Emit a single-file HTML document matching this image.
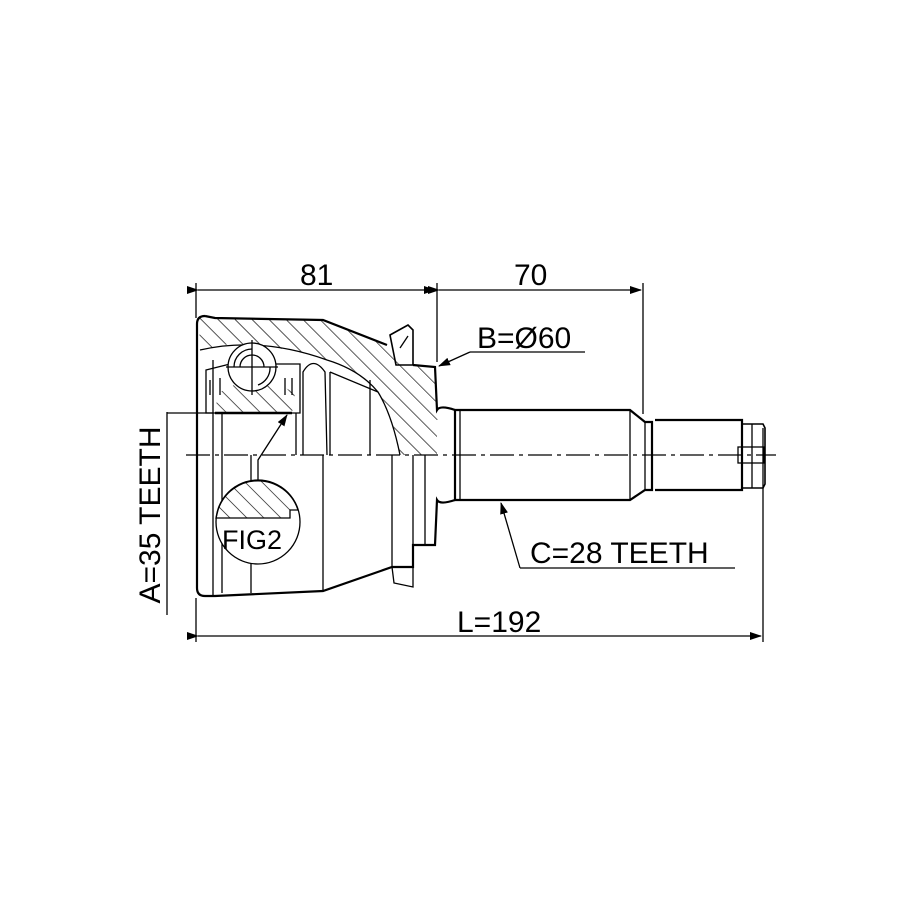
<!DOCTYPE html>
<html><head><meta charset="utf-8"><style>html,body{margin:0;padding:0;background:#fff}svg{display:block}</style></head>
<body>
<svg width="915" height="915" viewBox="0 0 915 915" xmlns="http://www.w3.org/2000/svg" font-family="Liberation Sans, sans-serif">
<defs>
<pattern id="h" patternUnits="userSpaceOnUse" width="12" height="12" patternTransform="rotate(-45)">
<line x1="0" y1="0" x2="0" y2="12" stroke="#000" stroke-width="1.3"/>
</pattern>
<marker id="a" markerWidth="12" markerHeight="8" refX="11" refY="4" orient="auto" markerUnits="userSpaceOnUse">
<path d="M0,0 L12,4 L0,8 Z" fill="#000"/></marker>
</defs>
<g stroke="#000" fill="none" stroke-width="1.3">
<line x1="196" y1="283" x2="196" y2="318"/>
<line x1="437" y1="283" x2="437" y2="362"/>
<line x1="643" y1="283" x2="643" y2="414"/>
<line x1="198" y1="290" x2="435" y2="290" marker-start="url(#a)" marker-end="url(#a)"/>
<line x1="439" y1="290" x2="641" y2="290" marker-start="url(#a)" marker-end="url(#a)"/>
<line x1="196" y1="598" x2="196" y2="642"/>
<line x1="763" y1="428" x2="763" y2="642"/>
<line x1="198" y1="636" x2="761" y2="636" marker-start="url(#a)" marker-end="url(#a)"/>
<line x1="167" y1="412" x2="167" y2="615"/>
<line x1="167" y1="413" x2="213" y2="413"/>
<line x1="186" y1="455" x2="776" y2="455" stroke-dasharray="24,5,4,5" stroke-width="1.2"/>
<path d="M199,318 L323,320 L387,345 L413,365 L435,367 L437,410 L447,415 L437,420 L437,455 L400,455 L392,420 L378,392 L353,370 L327,360 L300,352 L260,345 L230,344 L200,350 Z" fill="url(#h)" stroke="none"/>
<path d="M218,393 L240,382 L270,380 L295,393 L292,413 L215,413 Z" fill="url(#h)" stroke="none"/>
<path d="M205,316 Q197,316 197,324 L197,588 Q197,596 205,596 L215,596 L323,591 L392,567 L413,567 L413,545 L435,545 L437,500 Q440,505 455,500" stroke-width="2.2"/>
<path d="M205,316 L215,318 L323,320 L387,345" stroke-width="2.2"/>
<path d="M413,365 L435,367 L437,410 Q440,405 455,410" stroke-width="2.2"/>
<path d="M390,335 L408,325 L413,330 L413,365 L396,365 Z" stroke-width="1.6"/>
<line x1="400" y1="348" x2="408" y2="336"/>
<path d="M392,567 L394,583 L413,587 L413,567"/>
<path d="M200,350 Q260,336 327,360 Q360,370 378,392 Q392,415 400,455"/>
<line x1="213" y1="360" x2="213" y2="596"/>
<line x1="222" y1="413" x2="222" y2="593"/>
<line x1="251" y1="455" x2="251" y2="593"/>
<line x1="323" y1="455" x2="323" y2="591"/>
<line x1="392" y1="455" x2="392" y2="567"/>
<line x1="413" y1="455" x2="413" y2="545"/>
<line x1="425" y1="455" x2="425" y2="545"/>
<path d="M206,370 L230,364 L300,364 L300,413 L206,413 Z"/>
<line x1="215" y1="413" x2="292" y2="413" stroke-width="2.5"/>
<line x1="210" y1="380" x2="210" y2="395"/>
<line x1="220" y1="378" x2="220" y2="395"/>
<line x1="285" y1="378" x2="285" y2="395"/>
<line x1="292" y1="378" x2="292" y2="395"/>
<circle cx="252" cy="367" r="24" fill="#fff"/>
<path d="M240,367 A12,12 0 0 1 264,367 M234,367 A18,18 0 0 1 252,349 M258,385 A18,18 0 0 0 270,367"/>
<line x1="252" y1="340" x2="252" y2="395"/>
<line x1="226" y1="367" x2="278" y2="367"/>
<path d="M303,455 L303,372 Q313,355 325,372 L327,455"/>
<line x1="296" y1="413" x2="296" y2="455"/>
<line x1="330" y1="372" x2="378" y2="392"/>
<line x1="330" y1="372" x2="330" y2="455"/>
<line x1="370" y1="380" x2="370" y2="455"/>
<circle cx="258" cy="522" r="42" fill="#fff"/>
<path d="M218,510 A42,42 0 0 1 298,510 L290,510 L290,518 L216,518 Z" fill="url(#h)"/>
<path d="M258,480 L258,460 L287,415" marker-end="url(#a)"/>
<path d="M455,410 L630,410 L645,422 L652,422 L652,490 L645,490 L630,500 L455,500 Z" stroke-width="2.2"/>
<line x1="460" y1="410" x2="460" y2="500"/>
<line x1="630" y1="410" x2="630" y2="500"/>
<line x1="645" y1="422" x2="645" y2="490"/>
<path d="M655,420 L742,420 L742,490 L655,490" stroke-width="2.2"/>
<path d="M742,424 L763,424 L765,428 L765,484 L763,488 L742,488" stroke-width="1.6"/>
<line x1="752" y1="424" x2="752" y2="488"/>
<rect x="738" y="447" width="26" height="16"/>
<line x1="470" y1="352" x2="585" y2="352"/>
<line x1="470" y1="352" x2="439" y2="366" marker-end="url(#a)"/>
<line x1="520" y1="568" x2="735" y2="568"/>
<line x1="520" y1="568" x2="501" y2="503" marker-end="url(#a)"/>
</g>
<g font-size="30" fill="#000">
<text x="300" y="285">81</text>
<text x="514" y="285">70</text>
<text x="477" y="348">B=Ø60</text>
<text x="530" y="563">C=28 TEETH</text>
<text x="457" y="632">L=192</text>
<text x="160" y="515" transform="rotate(-90 160 515)" text-anchor="middle">A=35 TEETH</text>
<text x="222" y="549" font-size="27">FIG2</text>
</g>
</svg>
</body></html>
